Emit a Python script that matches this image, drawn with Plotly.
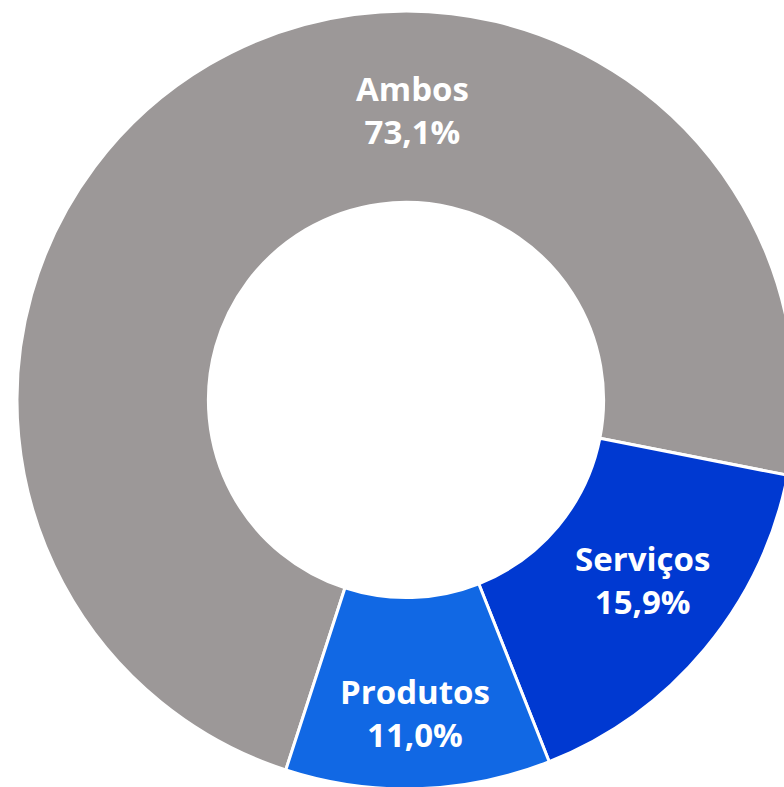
"""
Donut: tipo de oferta (Ambos / Serviços / Produtos).
"""
import plotly.graph_objects as go

categories = ["Ambos", "Serviços", "Produtos"]
shares = [73.1, 15.9, 11.0]
colors = ["#9c9898", "#0039d1", "#1168e4"]

# pixel centres of the labels (layout only)
label_px = {"Ambos": (412, 110), "Serviços": (642, 580), "Produtos": (415, 713)}

W, H = 812, 800
M = dict(l=17, r=17, t=11, b=11)


def to_paper(px, py):
    x = (px - M["l"]) / (W - M["l"] - M["r"])
    y = 1 - (py - M["t"]) / (H - M["t"] - M["b"])
    return x, y


fig = go.Figure(go.Pie(
    labels=categories,
    values=shares,
    hole=0.508,
    sort=False,
    direction="clockwise",
    rotation=198,
    marker=dict(colors=colors, line=dict(color="white", width=3)),
    textinfo="none",
    showlegend=False,
))

for cat, val in zip(categories, shares):
    x, y = to_paper(*label_px[cat])
    fig.add_annotation(
        x=x, y=y, xref="paper", yref="paper",
        text=f"{cat}<br>{val:.1f}%".replace(".", ","),
        showarrow=False, xanchor="center", yanchor="middle",
        font=dict(family="Open Sans", size=33, color="white", weight="bold"),
    )

fig.update_layout(
    width=W, height=H, margin=M,
    paper_bgcolor="white", plot_bgcolor="white",
)

fig.write_html(
    "out.html",
    config={"displayModeBar": False},
    post_script="document.body.style.margin='0';document.body.style.overflow='hidden';",
)
